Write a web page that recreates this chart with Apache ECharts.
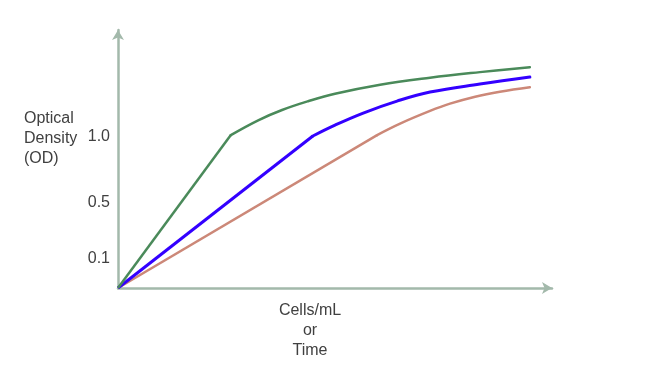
<!DOCTYPE html>
<html>
<head>
<meta charset="utf-8">
<script src="https://cdn.jsdelivr.net/npm/echarts@6/dist/echarts.min.js"></script>
<style>
html,body{margin:0;padding:0;background:#fff;}
#chart{width:655px;height:383px;}
</style>
</head>
<body>
<div id="chart"></div>
<script>
// x: arbitrary cells/mL or time units; y: schematic optical density scale
// Each curve: a straight rise to the knee, then a smooth saturating part.
const greenX = [0, 26, 32.3, 37.8, 43.8, 50.0, 60.4, 71.9, 83.4, 94.9];
const greenY = [0, 1.013, 1.111, 1.179, 1.237, 1.287, 1.347, 1.393, 1.430, 1.463];
const greenKnee = 1;
const blueX  = [0, 44.9, 50.0, 56.5, 64.3, 71.9, 83.4, 94.9];
const blueY  = [0, 1.007, 1.079, 1.159, 1.238, 1.298, 1.351, 1.397];
const blueKnee = 1;
const redX   = [0, 59.7, 65.0, 71.9, 76.5, 82.3, 88.0, 94.9];
const redY   = [0, 1.013, 1.089, 1.173, 1.221, 1.267, 1.300, 1.330];
const redKnee = 1;
const yTickLabels = ['0.1', '0.5', '1.0'];
const yTickAt = [0.192, 0.563, 1.0];
const yTitle = 'Optical\nDensity\n(OD)';
const xTitle = 'Cells/mL\nor\nTime';

function pairs(xs, ys){ return xs.map((x,i)=>[x, ys[i]]); }

const axisColor = '#a3b9ab';
const textColor = '#404040';
const font = '"Liberation Sans", Arial, sans-serif';

function curve(xs, ys, knee, color, width, z){
  const all = pairs(xs, ys);
  return [
    {type: 'line', data: all.slice(0, knee + 1), symbol: 'none', lineStyle: {color: color, width: width}, z: z},
    {type: 'line', data: all.slice(knee), symbol: 'none', smooth: 0.4, lineStyle: {color: color, width: width, cap: 'round'}, z: z}
  ];
}

const chart = echarts.init(document.getElementById('chart'), null, {renderer:'canvas'});
chart.setOption({
  animation: false,
  backgroundColor: '#fff',
  grid: {left: 118, top: 30, right: 103, bottom: 95, containLabel: false},
  xAxis: {
    type: 'value', min: 0, max: 100,
    axisLine: {show: true, onZero: false, symbol: ['none','arrow'], symbolSize: [9,10],
      lineStyle: {color: axisColor, width: 2.5}},
    axisTick: {show: false}, axisLabel: {show: false}, splitLine: {show: false}
  },
  yAxis: {
    type: 'value', min: 0, max: 1.709,
    axisLine: {show: true, onZero: false, symbol: ['none','arrow'], symbolSize: [9,10],
      lineStyle: {color: axisColor, width: 2.5}},
    axisTick: {show: false},
    splitLine: {show: false},
    axisLabel: {
      show: true, customValues: yTickAt, margin: 8,
      color: textColor, fontSize: 16, fontFamily: font,
      formatter: function(v){
        const i = yTickAt.findIndex(t => Math.abs(t - v) < 1e-6);
        return i >= 0 ? yTickLabels[i] : '';
      }
    }
  },
  graphic: [
    {type: 'text', left: 24, top: 109, style: {text: yTitle, fill: textColor, font: '16px ' + font, lineHeight: 20, textAlign: 'left'}},
    {type: 'text', x: 310, y: 301, style: {text: xTitle, fill: textColor, font: '16px ' + font, lineHeight: 20, textAlign: 'center'}}
  ],
  series: [].concat(
    curve(redX, redY, redKnee, '#cc8878', 2.5, 2),
    curve(blueX, blueY, blueKnee, '#3300ff', 3, 3),
    curve(greenX, greenY, greenKnee, '#4a8a5a', 2.5, 4)
  )
});
</script>
</body>
</html>
